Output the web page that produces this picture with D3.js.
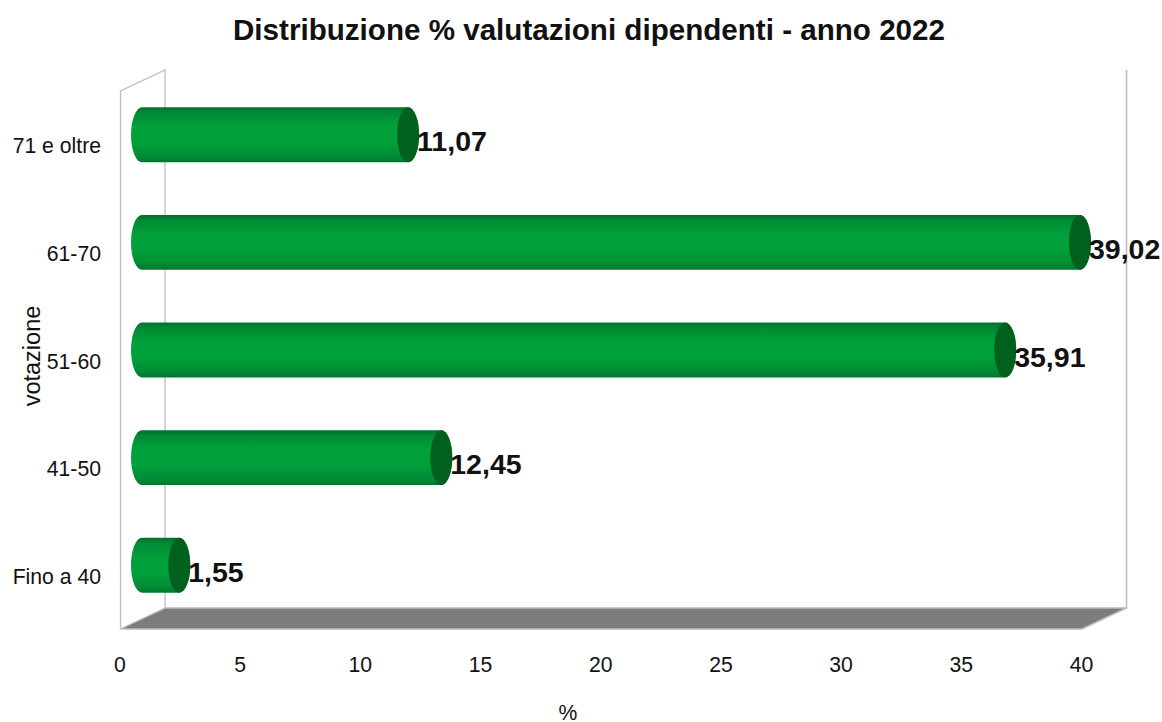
<!DOCTYPE html>
<html><head><meta charset="utf-8">
<script src="https://cdn.jsdelivr.net/npm/d3@7"></script>
<style>html,body{margin:0;padding:0;background:#fff}svg{display:block}text{font-family:"Liberation Sans",Arial,sans-serif;fill:#111}</style>
</head><body><svg id="c" width="1162" height="722"></svg>
<script>
const categories = ["Fino a 40","41-50","51-60","61-70","71 e oltre"];
const values = [1.55,12.45,35.91,39.02,11.07];
const valueLabels = ["1,55","12,45","35,91","39,02","11,07"];
const xTicks = [0,5,10,15,20,25,30,35,40];
const titleText = "Distribuzione % valutazioni dipendenti - anno 2022";
const xTitle = "%", yTitle = "votazione";

const svg = d3.select("#c");
const x = d3.scaleLinear().domain([0,40]).range([120.5,1082]);
const y = d3.scaleBand().domain(categories).range([619,81]).paddingInner(0.49).paddingOuter(0.245);
const dx = 44.5, dy = -21, barShift = 21.5, rx = 11;

const defs = svg.append("defs");
const g = defs.append("linearGradient").attr("id","cyl").attr("x1",0).attr("x2",0).attr("y1",0).attr("y2",1);
[[0,"#006f2d"],[0.1,"#008a34"],[0.35,"#00a03a"],[0.65,"#00a03a"],[0.9,"#008a34"],[1,"#00752e"]]
 .forEach(([o,c])=>g.append("stop").attr("offset",o).attr("stop-color",c));

const y0 = 629, yTop = 91;
svg.append("polygon").attr("fill","#7c7c7c")
  .attr("points",[[x(0),y0],[x(0)+dx,y0+dy],[x(40)+dx,y0+dy],[x(40),y0]].join(" "));
const wall = "#bdbdbd";
svg.append("path").attr("fill","none").attr("stroke",wall).attr("stroke-width",1.3)
  .attr("d",d3.line()([[x(0),y0],[x(0),yTop],[x(0)+dx,yTop+dy],[x(0)+dx,y0+dy],[x(0),y0]]));
svg.append("path").attr("fill","none").attr("stroke",wall).attr("stroke-width",1.3)
  .attr("d",d3.line()([[x(0)+dx,y0+dy],[x(40)+dx,y0+dy]]));
svg.append("path").attr("fill","none").attr("stroke",wall).attr("stroke-width",1.6)
  .attr("d",d3.line()([[x(40)+dx,yTop+dy],[x(40)+dx,y0+dy],[x(40),y0],[x(0),y0]]));

const rows = categories.map((c,i)=>({c,v:values[i],l:valueLabels[i]}));
const bar = svg.selectAll("g.bar").data(rows).join("g").attr("class","bar");
bar.append("path").attr("fill","url(#cyl)").attr("d",d=>{
  const t=y(d.c), h=y.bandwidth(), l=x(0)+barShift, r=x(d.v)+barShift, ry=h/2;
  return `M${l},${t}L${r},${t}A${rx},${ry} 0 0 1 ${r},${t+h}L${l},${t+h}A${rx},${ry} 0 0 1 ${l},${t}Z`;
});
bar.append("ellipse").attr("fill","#00611f")
  .attr("cx",d=>x(d.v)+barShift).attr("cy",d=>y(d.c)+y.bandwidth()/2)
  .attr("rx",rx).attr("ry",y.bandwidth()/2);
bar.append("text").attr("x",d=>x(d.v)+barShift+rx-2).attr("y",d=>y(d.c)+y.bandwidth()/2+16.5)
  .attr("font-size",28.5).attr("font-weight","bold").text(d=>d.l);

svg.append("g").selectAll("text").data(categories).join("text")
  .attr("x",101).attr("y",d=>y(d)+y.bandwidth()/2+18.5).attr("text-anchor","end")
  .attr("font-size",21.2).text(d=>d);
svg.append("g").selectAll("text").data(xTicks).join("text")
  .attr("x",d=>x(d)-0.5).attr("y",672).attr("text-anchor","middle")
  .attr("font-size",21.2).text(d=>d);
svg.append("text").attr("x",589).attr("y",40).attr("text-anchor","middle")
  .attr("font-size",29.6).attr("font-weight","bold").text(titleText);
svg.append("text").attr("x",568).attr("y",719.5).attr("text-anchor","middle").attr("font-size",21.2).text(xTitle);
svg.append("text").attr("transform","translate(40,356) rotate(-90)").attr("text-anchor","middle").attr("font-size",23.5).text(yTitle);
</script></body></html>
